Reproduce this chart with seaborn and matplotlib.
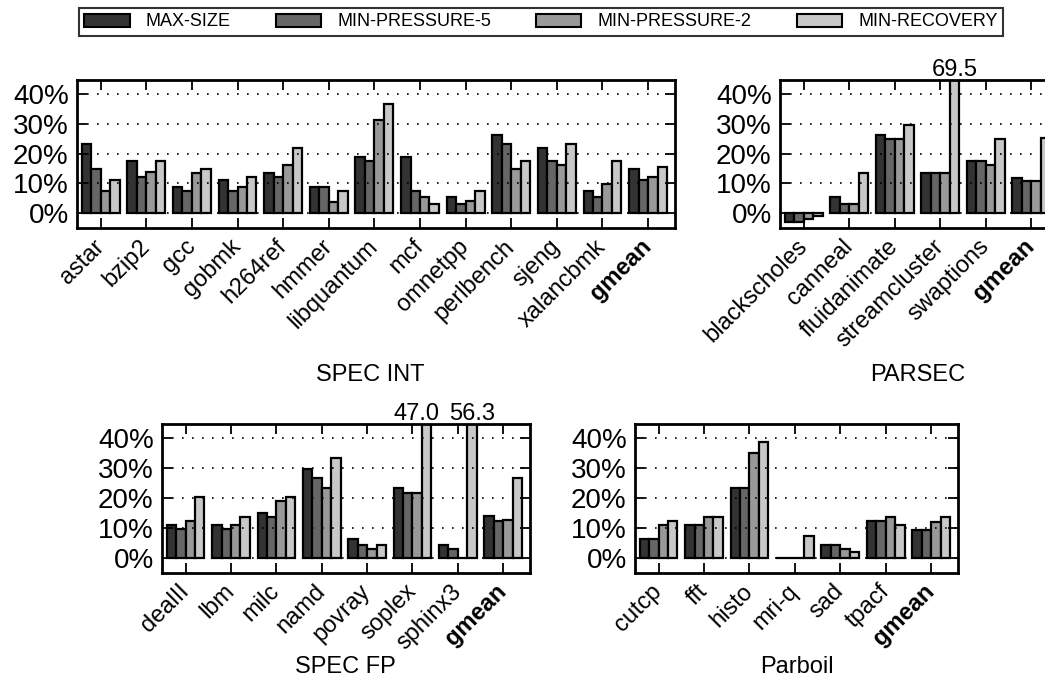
import pandas as pd
import matplotlib
matplotlib.use('Agg')
import matplotlib.pyplot as plt
import seaborn as sns
from matplotlib.patches import Patch

# Configurations (legend order) and their grey levels
configs = ['MAX-SIZE', 'MIN-PRESSURE-5', 'MIN-PRESSURE-2', 'MIN-RECOVERY']
colors = ['#333333', '#666666', '#999999', '#c8c8c8']

# SPEC INT
spec_int_names = ['astar', 'bzip2', 'gcc', 'gobmk', 'h264ref', 'hmmer', 'libquantum',
                  'mcf', 'omnetpp', 'perlbench', 'sjeng', 'xalancbmk', 'gmean']
spec_int_max_size = [23.3, 17.6, 8.7, 11.1, 13.6, 8.7, 19.0, 19.0, 5.3, 26.3, 21.8, 7.4, 14.9]
spec_int_min_p5 = [14.9, 12.3, 7.4, 7.4, 12.3, 8.7, 17.6, 7.4, 3.1, 23.3, 17.6, 5.3, 11.2]
spec_int_min_p2 = [7.4, 13.7, 13.4, 8.7, 16.2, 3.9, 31.4, 5.3, 4.1, 14.9, 16.2, 9.9, 12.0]
spec_int_min_rec = [11.0, 17.6, 14.9, 12.3, 21.8, 7.4, 36.8, 3.0, 7.4, 17.6, 23.3, 17.6, 15.5]

# PARSEC
parsec_names = ['blackscholes', 'canneal', 'fluidanimate', 'streamcluster', 'swaptions', 'gmean']
parsec_max_size = [-2.9, 5.4, 26.4, 13.6, 17.7, 11.7]
parsec_min_p5 = [-2.9, 3.1, 25.0, 13.6, 17.7, 10.8]
parsec_min_p2 = [-1.9, 3.1, 25.0, 13.6, 16.2, 10.8]
parsec_min_rec = [-0.9, 13.6, 29.7, 69.5, 25.0, 25.3]

# SPEC FP
spec_fp_names = ['dealII', 'lbm', 'milc', 'namd', 'povray', 'soplex', 'sphinx3', 'gmean']
spec_fp_max_size = [11.1, 11.1, 14.9, 29.8, 6.5, 23.3, 4.3, 14.1]
spec_fp_min_p5 = [9.7, 9.7, 13.7, 26.6, 4.3, 21.8, 3.1, 12.4]
spec_fp_min_p2 = [12.4, 11.1, 19.0, 23.4, 2.9, 21.8, 0.0, 12.8]
spec_fp_min_rec = [20.4, 13.7, 20.4, 33.3, 4.3, 47.0, 56.3, 26.7]

# Parboil
parboil_names = ['cutcp', 'fft', 'histo', 'mri-q', 'sad', 'tpacf', 'gmean']
parboil_max_size = [6.5, 11.1, 23.5, 0.0, 4.3, 12.3, 9.4]
parboil_min_p5 = [6.5, 11.1, 23.5, 0.0, 4.3, 12.3, 9.4]
parboil_min_p2 = [11.1, 13.7, 35.1, 0.0, 3.1, 13.7, 12.2]
parboil_min_rec = [12.4, 13.7, 38.7, 7.5, 2.1, 11.1, 13.7]

sns.set_style('ticks')
plt.rcParams['font.family'] = ['Liberation Sans', 'DejaVu Sans']
plt.rcParams.update({'text.color': 'black', 'axes.edgecolor': 'black',
                     'xtick.color': 'black', 'ytick.color': 'black',
                     'axes.labelcolor': 'black'})

W, H = 1045, 698
fig = plt.figure(figsize=(W / 100, H / 100), dpi=100)


def make_df(names, series):
    rows = []
    for cfg, vals in zip(configs, series):
        for n, v in zip(names, vals):
            rows.append({'bench': n, 'config': cfg, 'value': v})
    return pd.DataFrame(rows)


def panel(box, names, series, title, title_xy, label_shift=None):
    x0, y0, x1, y1 = box
    ax = fig.add_axes([x0 / W, 1 - y1 / H, (x1 - x0) / W, (y1 - y0) / H])
    df = make_df(names, series)
    sns.barplot(data=df, x='bench', y='value', hue='config', hue_order=configs,
                order=names, palette=colors, edgecolor='black', linewidth=1.6,
                width=0.83, saturation=1, ax=ax, legend=False)
    top = 44.8
    ax.set_ylim(-5, top)
    ax.set_xlim(-0.52, len(names) - 0.41)
    ax.set_yticks([0, 10, 20, 30, 40])
    ax.set_yticklabels(['0%', '10%', '20%', '30%', '40%'], fontsize=20)
    ax.set_xticks(range(len(names)))
    ax.set_xticklabels(names, rotation=45, ha='right', va='center',
                       rotation_mode='anchor', fontsize=17)
    ax.get_xticklabels()[-1].set_fontweight('bold')
    ax.set_xlabel('')
    ax.set_ylabel('')
    ax.tick_params(direction='in', length=7, width=1.3, top=True, right=True)
    ax.tick_params(axis='x', pad=11)
    ax.tick_params(axis='y', pad=6)
    ax.grid(axis='y', color='black', linestyle=(0, (1, 5)), linewidth=1.2)
    ax.set_axisbelow(False)
    for s in ax.spines.values():
        s.set_linewidth(2)
        s.set_visible(True)
    # label bars that run off the top
    for p in ax.patches:
        h = p.get_height()
        if h > top:
            cx = p.get_x() + p.get_width() / 2
            idx = int(round(cx))
            dx = (label_shift or {}).get(names[idx], 0)
            ax.annotate(f'{h:.1f}', (cx, top), xytext=(dx, -1), textcoords='offset points',
                        ha='center', va='bottom', fontsize=17, annotation_clip=False)
    fig.text(title_xy[0] / W, 1 - title_xy[1] / H, title, ha='center', va='center', fontsize=17)
    return ax


panel((77, 80, 675, 228), spec_int_names,
      [spec_int_max_size, spec_int_min_p5, spec_int_min_p2, spec_int_min_rec],
      'SPEC INT', (370, 375))
panel((780, 80, 1058, 228), parsec_names,
      [parsec_max_size, parsec_min_p5, parsec_min_p2, parsec_min_rec],
      'PARSEC', (918, 375))
panel((162, 424, 530, 573), spec_fp_names,
      [spec_fp_max_size, spec_fp_min_p5, spec_fp_min_p2, spec_fp_min_rec],
      'SPEC FP', (345, 667), label_shift={'soplex': -7})
panel((635, 424, 958, 573), parboil_names,
      [parboil_max_size, parboil_min_p5, parboil_min_p2, parboil_min_rec],
      'Parboil', (797, 667))

handles = [Patch(facecolor=c, edgecolor='black', linewidth=1.5) for c in colors]
leg = fig.legend(handles, configs, loc='upper center', bbox_to_anchor=(541 / W, 1 - 8 / H),
                 ncol=4, frameon=True, fancybox=False, edgecolor='black', fontsize=13,
                 handlelength=2.5, handleheight=0.75, handletextpad=0.9,
                 columnspacing=2.5, borderpad=0.3, borderaxespad=0)
leg.get_frame().set_linewidth(1.5)

fig.savefig('out.png', dpi=100)
